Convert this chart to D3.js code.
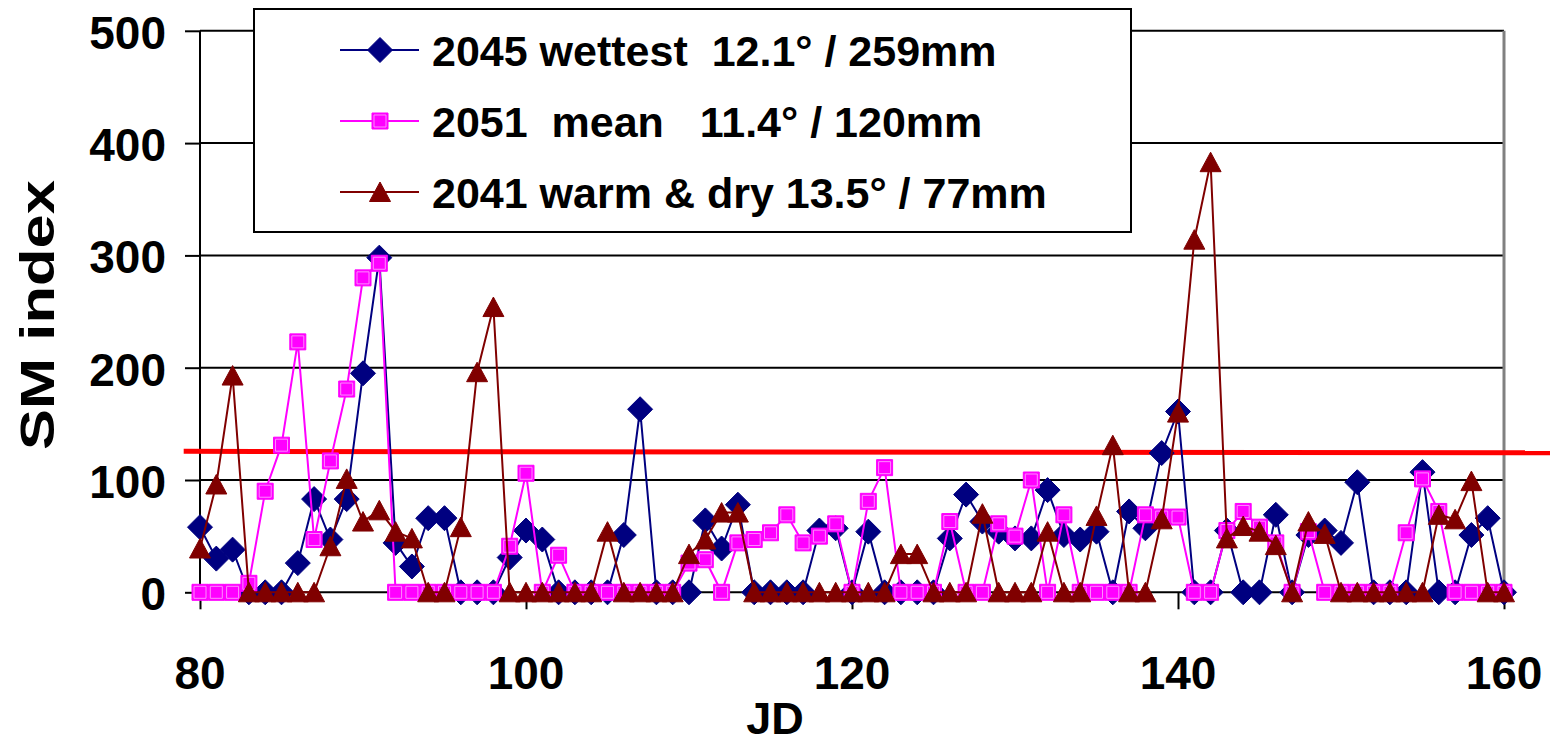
<!DOCTYPE html>
<html>
<head>
<meta charset="utf-8">
<script src="https://cdn.jsdelivr.net/npm/d3@7"></script>
<style>
body { margin: 0; background: #ffffff; }
text { font-family: "Liberation Sans", Arial, sans-serif; font-weight: bold; fill: #000000; }
</style>
</head>
<body>
<div id="chart"></div>
<script>
// days on the x axis (JD 80 .. 160)
var days = d3.range(80, 161);

// SM index per day
var wettest2045 = [58, 30, 38, 0, 0, 0, 26, 83, 47, 83, 195, 298, 44, 23, 66, 66, 0, 0, 0, 31,
    55, 47, 0, 0, 0, 0, 51, 163, 0, 0, 0, 64, 39, 78, 0, 0, 0, 0, 55, 57,
    0, 54, 0, 0, 0, 0, 48, 87, 63, 54, 48, 48, 91, 51, 47, 54, 0, 72, 57, 124,
    161, 0, 0, 55, 0, 0, 69, 0, 51, 55, 44, 98, 0, 0, 0, 107, 0, 0, 51, 66, 0];

var mean2051 = [0, 0, 0, 8, 90, 131, 223, 47, 117, 181, 280, 293, 0, 0, 0, 0, 0, 0, 0, 41,
    106, 0, 33, 0, 0, 0, 0, 0, 0, 0, 26, 29, 0, 44, 47, 53, 69, 44, 50, 61,
    0, 81, 111, 0, 0, 0, 63, 0, 0, 61, 50, 100, 0, 69, 0, 0, 0, 0, 69, 67,
    67, 0, 0, 55, 72, 58, 44, 0, 54, 0, 0, 0, 0, 0, 53, 101, 72, 0, 0, 0, 0];

var warmDry2041 = [39, 96, 193, 0, 0, 0, 0, 0, 41, 101, 63, 73, 54, 48, 0, 0, 58, 196, 254, 0,
    0, 0, 0, 0, 0, 54, 0, 0, 0, 0, 34, 47, 71, 71, 0, 0, 0, 0, 0, 0,
    0, 0, 0, 34, 34, 0, 0, 0, 70, 0, 0, 0, 54, 0, 0, 68, 131, 0, 0, 65,
    160, 314, 383, 48, 59, 54, 42, 0, 63, 52, 0, 0, 0, 0, 0, 0, 69, 65, 99, 0, 0];

var seriesNames = ["2045 wettest  12.1\u00b0 / 259mm", "2051  mean   11.4\u00b0 / 120mm", "2041 warm & dry 13.5\u00b0 / 77mm"];
var seriesColors = ["#000080", "#ff00ff", "#800000"];
var seriesShapes = ["diamond", "square", "triangle"];

var xTicks = [80, 100, 120, 140, 160];
var yTicks = [0, 100, 200, 300, 400, 500];

// threshold line (drawn by hand in the original, runs past the plot)
var threshold = [{jd: 79.0, v: 125.5}, {jd: 162.9, v: 124.3}];

var width = 1550;
var height = 744;

var svg = d3.select("#chart")
    .append("svg")
    .attr("width", width)
    .attr("height", height);

var x = d3.scaleLinear().domain([80, 160]).range([200, 1504]);
var y = d3.scaleLinear().domain([0, 500]).range([592.3, 30.8]);

// gridlines
svg.selectAll(".grid")
    .data(yTicks.slice(1))
    .enter()
    .append("line")
    .attr("x1", x(80))
    .attr("x2", x(160))
    .attr("y1", function (d) { return y(d); })
    .attr("y2", function (d) { return y(d); })
    .style("stroke", "#000000")
    .style("stroke-width", "2px");

// right border
svg.append("line")
    .attr("x1", x(160)).attr("x2", x(160))
    .attr("y1", y(500)).attr("y2", y(0))
    .style("stroke", "#808080")
    .style("stroke-width", "3px");

// y axis
var yAxis = d3.axisLeft(y).tickValues(yTicks).tickSize(15).tickFormat("");
svg.append("g")
    .attr("transform", "translate(" + x(80) + ",0)")
    .call(yAxis)
    .call(function (g) {
        g.selectAll("line, path").style("stroke", "#000000").style("stroke-width", "2px");
        g.select(".domain").attr("d", "M0," + y(0) + "V" + y(500));
    });

// x axis
var xAxis = d3.axisBottom(x).tickValues(xTicks).tickSize(17).tickFormat("");
svg.append("g")
    .attr("transform", "translate(0," + y(0) + ")")
    .call(xAxis)
    .call(function (g) {
        g.selectAll("line, path").style("stroke", "#000000").style("stroke-width", "2px");
        g.select(".domain").attr("d", "M" + x(80) + ",0H" + x(160));
    });

// tick labels
svg.selectAll(".yLabel")
    .data(yTicks)
    .enter()
    .append("text")
    .attr("x", 166)
    .attr("y", function (d) { return y(d) + 18; })
    .attr("text-anchor", "end")
    .style("font-size", "46px")
    .text(function (d) { return d; });

svg.selectAll(".xLabel")
    .data(xTicks)
    .enter()
    .append("text")
    .attr("x", function (d) { return x(d); })
    .attr("y", 689)
    .attr("text-anchor", "middle")
    .style("font-size", "46px")
    .text(function (d) { return d; });

// axis titles
svg.append("text")
    .attr("x", 775)
    .attr("y", 734)
    .attr("text-anchor", "middle")
    .style("font-size", "45px")
    .text("JD");

svg.append("text")
    .attr("transform", "translate(54, 315) rotate(-90)")
    .attr("text-anchor", "middle")
    .attr("textLength", 270)
    .attr("lengthAdjust", "spacingAndGlyphs")
    .style("font-size", "49px")
    .text("SM index");

// red threshold line
svg.append("path")
    .datum(threshold)
    .attr("d", d3.line()
        .x(function (d) { return x(d.jd); })
        .y(function (d) { return y(d.v); }))
    .style("fill", "none")
    .style("stroke", "#ff0000")
    .style("stroke-width", "5px");

function markerPath(shape) {
    if (shape == "diamond") return "M0,-12.5L12.5,0L0,12.5L-12.5,0Z";
    if (shape == "triangle") return "M0,-10L10.5,9.5L-10.5,9.5Z";
    return "M-8,-8H8V8H-8Z";
}

function drawMarker(g, shape, color) {
    g.append("path")
        .attr("d", markerPath(shape))
        .style("fill", color)
        .style("stroke", color)
        .style("stroke-width", "1px");
    if (shape == "square") {
        g.append("path")
            .attr("d", "M-6,-6H6V6H-6Z")
            .style("fill", "none")
            .style("stroke", "#ff8cff")
            .style("stroke-width", "1px");
    }
}

var allSeries = [wettest2045, mean2051, warmDry2041];

allSeries.forEach(function (vals, s) {
    var pts = days.map(function (d, i) { return {jd: d, v: vals[i]}; });
    var sg = svg.append("g").attr("class", "series" + s);

    sg.append("path")
        .datum(pts)
        .attr("d", d3.line()
            .x(function (d) { return x(d.jd); })
            .y(function (d) { return y(d.v); }))
        .style("fill", "none")
        .style("stroke", seriesColors[s])
        .style("stroke-width", "2px");

    sg.selectAll(".mark")
        .data(pts)
        .enter()
        .append("g")
        .attr("transform", function (d) { return "translate(" + x(d.jd) + "," + y(d.v) + ")"; })
        .each(function () { drawMarker(d3.select(this), seriesShapes[s], seriesColors[s]); });
});

// legend
var legend = svg.append("g").attr("class", "legend");
legend.append("rect")
    .attr("x", 254)
    .attr("y", 9)
    .attr("width", 877)
    .attr("height", 223)
    .style("fill", "#ffffff")
    .style("stroke", "#000000")
    .style("stroke-width", "2px");

var legendY = [50, 121, 192];
seriesNames.forEach(function (name, i) {
    var row = legend.append("g").attr("transform", "translate(0," + legendY[i] + ")");
    row.append("line")
        .attr("x1", 340).attr("x2", 419)
        .attr("y1", 0).attr("y2", 0)
        .style("stroke", seriesColors[i])
        .style("stroke-width", "2px");
    drawMarker(row.append("g").attr("transform", "translate(380,0)"), seriesShapes[i], seriesColors[i]);
    row.append("text")
        .attr("x", 432)
        .attr("y", 16)
        .style("font-size", "43px")
        .style("white-space", "pre")
        .attr("xml:space", "preserve")
        .text(name);
});
</script>
</body>
</html>
